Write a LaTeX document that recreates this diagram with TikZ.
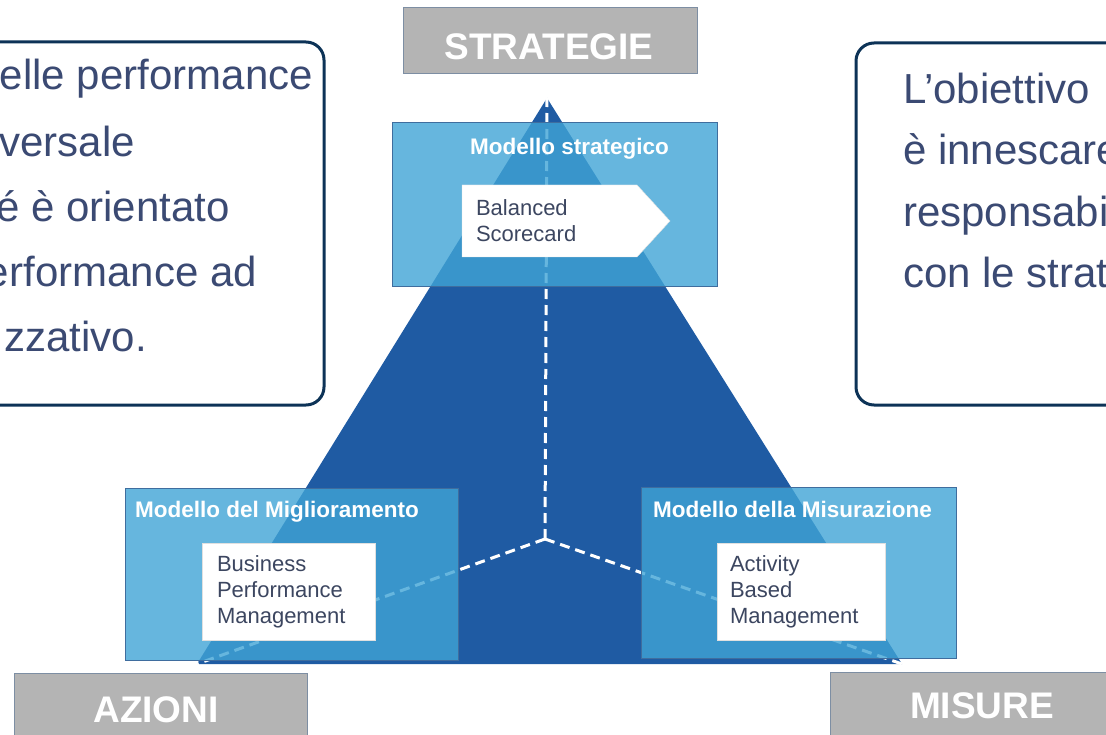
\documentclass[tikz,border=0pt]{standalone}
\usepackage{fontspec}
\setmainfont{Liberation Sans}
\usetikzlibrary{arrows.meta}
\definecolor{navy}{HTML}{0D3357}
\definecolor{slate}{HTML}{3B4A73}
\definecolor{pyrblue}{HTML}{1F5BA3}
\definecolor{boxblue}{HTML}{40A4D6}
\definecolor{boxline}{HTML}{3F6D9E}
\definecolor{labelgray}{HTML}{B4B4B4}
\definecolor{labelline}{HTML}{7D8EA3}
\definecolor{innertext}{HTML}{3C4660}

\begin{document}
\begin{tikzpicture}[x=1pt,y=-1pt,
  textbox/.style={draw=navy,line width=3pt,rounded corners=18pt,fill=white},
  bigtext/.style={text=slate,inner sep=0pt,font=\fontsize{42}{50}\selectfont},
  graybox/.style={draw=labelline,line width=1pt,fill=labelgray,inner sep=0pt},
  graylabel/.style={text=white,inner sep=0pt,anchor=base,font=\fontsize{37}{44}\selectfont\bfseries},
  modelbox/.style={draw=boxline,line width=1pt,fill=boxblue,fill opacity=0.8,inner sep=0pt},
  modeltitle/.style={text=white,inner sep=0pt,anchor=base west,font=\fontsize{22.5}{26}\selectfont\bfseries},
  innerbox/.style={fill=white,draw=black!12,align=left,inner ysep=0pt,font=\fontsize{22}{26}\selectfont,text=innertext},
  axis/.style={white,line width=3pt,dash pattern=on 10pt off 6pt}]
  \useasboundingbox (0,0) rectangle (1106,735);

  \draw[textbox] (-40,42) rectangle (324,405);
  \node[bigtext,anchor=base east] (l1) at (313,90) {elle performance};
  \node[bigtext,anchor=base east] (l2) at (135,157) {versale};
  \node[bigtext,anchor=base east] (l3) at (230,222) {é è orientato};
  \node[bigtext,anchor=base east] (l4) at (257,287) {erformance ad};
  \node[bigtext,anchor=base east] (l5) at (147,352) {zzativo.};

  \draw[textbox] (856,43) rectangle (1150,405);
  \node[bigtext,anchor=base west] (r1) at (903,104) {L’obiettivo};
  \node[bigtext,anchor=base west] (r2) at (903,165) {è innescare};
  \node[bigtext,anchor=base west] (r3) at (903,227) {responsabi};
  \node[bigtext,anchor=base west] (r4) at (903,288) {con le strat};

  \node[graybox,minimum width=294,minimum height=66] (strat) at (550,41) {};
  \node[graylabel] (stratlabel) at (549,60) {STRATEGIE};
  \node[graybox,minimum width=293,minimum height=90] (azioni) at (160.5,718) {};
  \node[graylabel] (azionilabel) at (156,722) {AZIONI};
  \node[graybox,minimum width=320,minimum height=90] (misure) at (990,717) {};
  \node[graylabel] (misurelabel) at (982,718) {MISURE};

  \coordinate (apex) at (547,98);
  \coordinate (lbase) at (197,664);
  \coordinate (rbase) at (902,664);
  \coordinate (centre) at (545,539);
  \fill[pyrblue] (apex) -- (lbase) -- (rbase) -- cycle;
  \draw[axis] (centre) -- (apex);
  \draw[axis] (centre) -- (lbase);
  \draw[axis] (centre) -- (rbase);

  \node[modelbox,minimum width=325,minimum height=164] (mstrat) at (554.5,205) {};
  \node[modelbox,minimum width=333,minimum height=172] (mmigl) at (291.5,574) {};
  \node[modelbox,minimum width=315,minimum height=171] (mmis) at (798.5,572.5) {};
  \node[modeltitle] (tstrat) at (470,155) {Modello strategico};
  \node[modeltitle] (tmigl) at (135,517) {Modello del Miglioramento};
  \node[modeltitle] (tmis) at (653,517) {Modello della Misurazione};

  \fill[white,draw=black!12] (462,185) -- (637,185) -- (670,221) -- (637,257) -- (462,257) -- cycle;
  \node[innerbox,draw=none,fill=none,inner xsep=14pt,minimum width=175,minimum height=72,text width=147] (bsc) at (549.5,221) {Balanced\\Scorecard};
  \node[innerbox,inner xsep=15pt,minimum width=173,minimum height=97,text width=143] (bpm) at (288.5,591.5) {Business\\Performance\\Management};
  \node[innerbox,inner xsep=13pt,minimum width=168,minimum height=97,text width=142] (abm) at (801,591.5) {Activity\\Based\\Management};
\end{tikzpicture}
\end{document}
